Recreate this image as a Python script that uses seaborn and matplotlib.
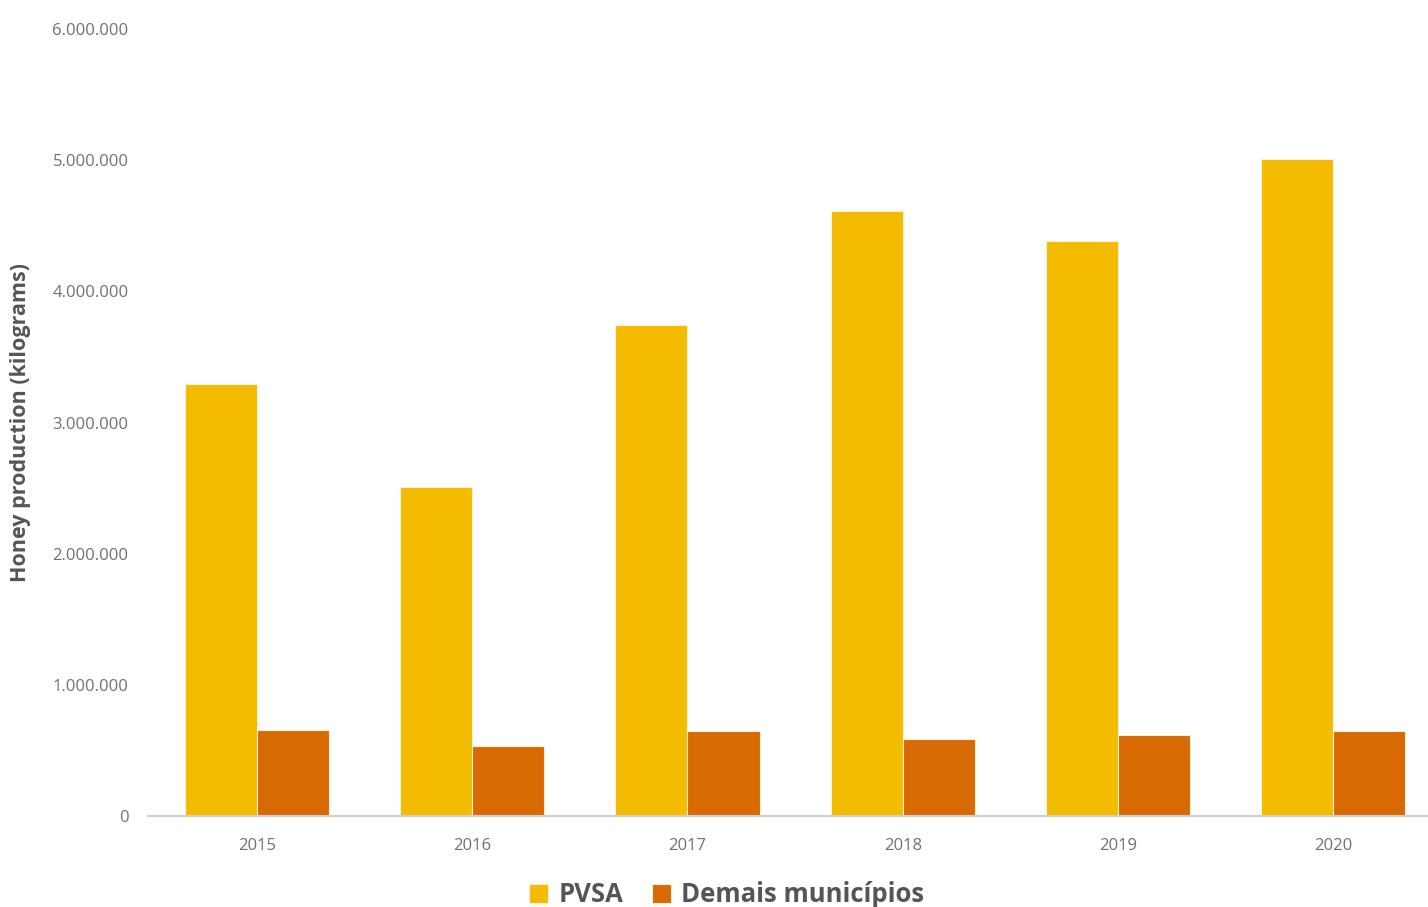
import matplotlib
matplotlib.use("Agg")
import matplotlib.pyplot as plt
from matplotlib.ticker import FuncFormatter, MultipleLocator
import seaborn as sns
import pandas as pd

years = ["2015", "2016", "2017", "2018", "2019", "2020"]
series_names = ["PVSA", "Demais municípios"]
pvsa = [3290000, 2506000, 3740000, 4615000, 4387000, 5010000]
demais = [655000, 533000, 647000, 586000, 617000, 647000]
colors = ["#F3BC00", "#D86A04"]

df = pd.DataFrame({
    "Ano": years * 2,
    "Série": [series_names[0]] * len(years) + [series_names[1]] * len(years),
    "Produção": pvsa + demais,
})

sns.set_theme(style="white")
fonts = ["Open Sans", "DejaVu Sans"]
plt.rcParams["font.family"] = fonts

fig = plt.figure(figsize=(14.28, 9.07), dpi=100)
ax = fig.add_axes([0.1036, 0.1003, 0.8964, 0.8677])

sns.barplot(data=df, x="Ano", y="Produção", hue="Série", palette=colors,
            saturation=1, width=0.67, edgecolor="#fbefd6", linewidth=0.8, ax=ax)

ax.set_ylim(0, 6000000)
ax.set_xlim(-0.506, 5.44)
ax.yaxis.set_major_locator(MultipleLocator(1000000))
ax.yaxis.set_major_formatter(FuncFormatter(lambda v, p: f"{int(v):,}".replace(",", ".")))

for side in ["top", "right", "left"]:
    ax.spines[side].set_visible(False)
ax.spines["bottom"].set_color("#cfcfcf")
ax.spines["bottom"].set_linewidth(1.5)

ax.tick_params(axis="y", length=0, pad=14, labelsize=12, labelcolor="#707070")
ax.tick_params(axis="x", length=0, pad=16, labelsize=12, labelcolor="#707070")
ax.set_xlabel("")
ax.set_ylabel("Honey production (kilograms)", fontsize=15.5, fontweight="bold",
              color="#555555", labelpad=0)
ax.yaxis.set_label_coords(-0.091, 0.5)

handles, labels = ax.get_legend_handles_labels()
ax.get_legend().remove()
fig.legend(handles, labels, loc="lower center", bbox_to_anchor=(0.509, -0.027),
           ncol=2, frameon=False, handlelength=0.75, handleheight=0.75,
           handletextpad=0.4, columnspacing=1.1, labelcolor="#555555",
           prop={"family": fonts, "size": 18.5, "weight": "bold"})

fig.savefig("out.png", dpi=100)
